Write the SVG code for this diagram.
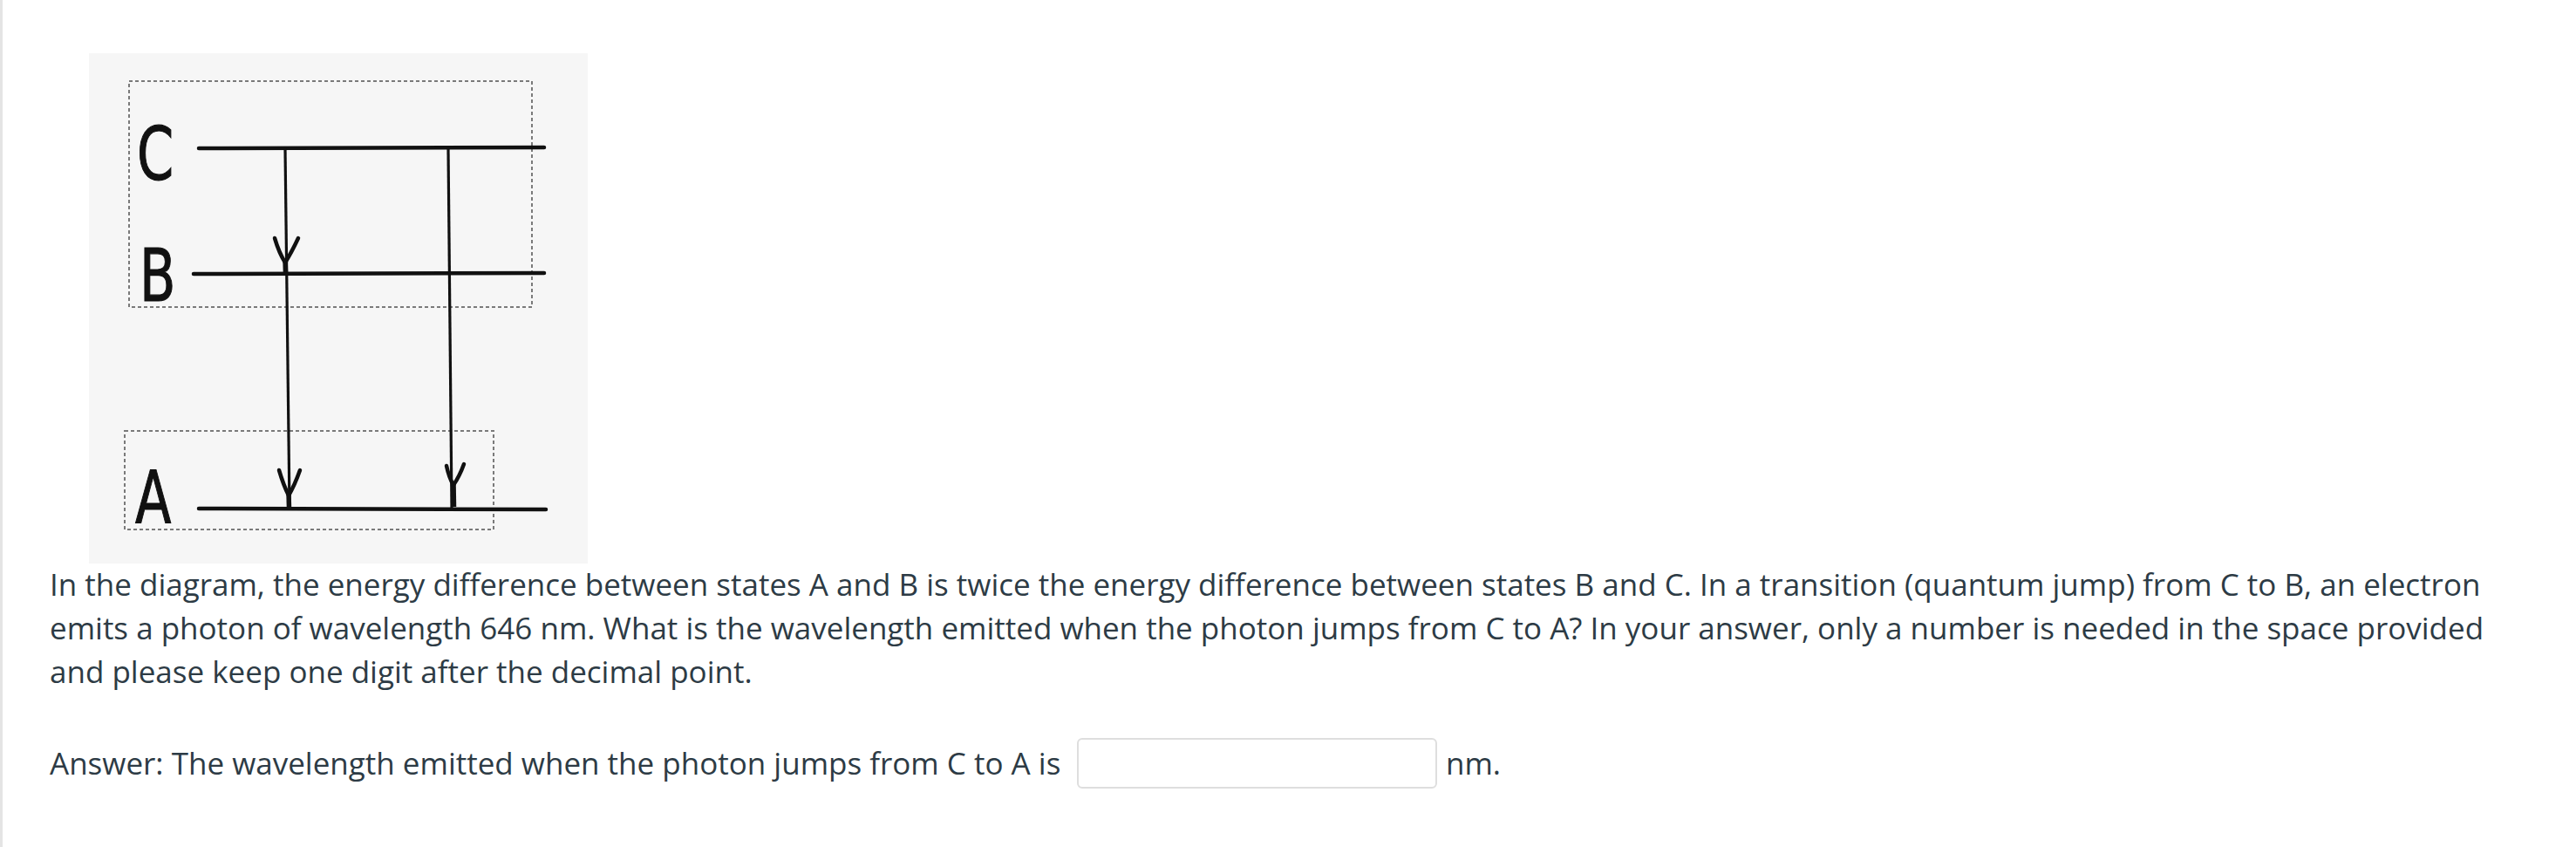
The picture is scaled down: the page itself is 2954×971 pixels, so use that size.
<svg xmlns="http://www.w3.org/2000/svg" width="2954" height="971" viewBox="0 0 2954 971">
<style>
.q{font-family:"Open Sans","Liberation Sans",sans-serif;font-size:35px;fill:#2d3b45}
.lvl{stroke:#111;stroke-width:4.5;stroke-linecap:round;fill:none}
.tr{stroke:#111;stroke-width:3.2;fill:none}
.head{stroke:#111;stroke-width:4.5;fill:none;stroke-linecap:round;stroke-linejoin:round}
.stem{stroke:#111;stroke-width:5.5;fill:none}
.dash{stroke:#7a7a7a;stroke-width:2;stroke-dasharray:4 3;fill:none}
.lab{font-family:"DejaVu Sans","Liberation Sans",sans-serif;font-size:84px;fill:#111;stroke:#111;stroke-width:1.2}
</style>
<rect x="0" y="0" width="2954" height="971" fill="#ffffff"/>
<rect x="0" y="0" width="3" height="971" fill="#e4e4e4"/>
<g id="figure">
<rect x="102" y="61" width="572" height="585" fill="#f6f6f6"/>
<rect class="dash" x="148" y="93" width="462" height="259"/>
<rect class="dash" x="143" y="494" width="423" height="113"/>
</g>
<g id="level-C">
<line class="lvl" x1="228" y1="170" x2="624" y2="169"/>
<text class="lab" transform="translate(157,206) scale(0.72,1)">C</text>
</g>
<g id="level-B">
<line class="lvl" x1="222" y1="314" x2="624" y2="313"/>
<text class="lab" transform="translate(160,345) scale(0.72,1)">B</text>
</g>
<g id="level-A">
<line class="lvl" x1="228" y1="583" x2="626" y2="584"/>
<text class="lab" transform="translate(155,600) scale(0.72,1)">A</text>
</g>
<g id="connectors">
<line class="tr" x1="327" y1="170" x2="332" y2="583"/>
<line class="tr" x1="514" y1="170" x2="518" y2="582"/>
<path class="head" d="M315,273 Q320,290 327,301 Q334,290 342,273"/>
<line class="stem" x1="327" y1="298" x2="327.5" y2="313"/>
<path class="head" d="M320,539 Q325,556 331,568 Q338,556 344,539"/>
<line class="stem" x1="331" y1="565" x2="331.5" y2="583"/>
<path class="head" d="M512,534 Q515,548 520,556 Q527,546 532,532"/>
<line class="stem" x1="520" y1="553" x2="520.5" y2="581"/>
</g>
<g id="question">
<text class="q" x="57" y="683">In the diagram, the energy difference between states A and B is twice the energy difference between states B and C. In a transition (quantum jump) from C to B, an electron</text>
<text class="q" x="57" y="733">emits a photon of wavelength 646 nm. What is the wavelength emitted when the photon jumps from C to A? In your answer, only a number is needed in the space provided</text>
<text class="q" x="57" y="783">and please keep one digit after the decimal point.</text>
</g>
<g id="answer">
<text class="q" x="57" y="888">Answer: The wavelength emitted when the photon jumps from C to A is</text>
<rect x="1236" y="847" width="411" height="56" rx="5" fill="#ffffff" stroke="#dedede" stroke-width="2"/>
<text class="q" x="1658" y="888">nm.</text>
</g>
</svg>
